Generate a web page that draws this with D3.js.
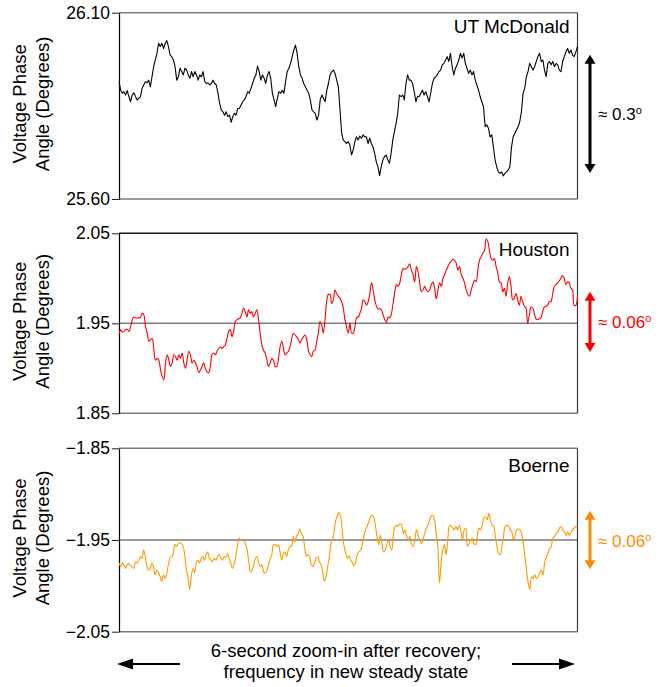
<!DOCTYPE html>
<html>
<head>
<meta charset="utf-8">
<script src="https://cdn.jsdelivr.net/npm/d3@7"></script>
<style>
  body { margin: 0; background: #fff; }
  text { font-family: "Liberation Sans", Arial, sans-serif; }
</style>
</head>
<body>
<svg id="chart" width="659" height="687"></svg>
<script>
// 6 second window, phase angle samples (degrees), evenly spaced in time
const windowSeconds = 6;

const mcdonald = [
  25.915, 25.892, 25.884, 25.888, 25.879, 25.891, 25.875, 25.861, 25.879, 25.885, 25.875, 25.866, 25.870, 25.875, 25.897, 25.906,
  25.915, 25.912, 25.919, 25.901, 25.928, 25.955, 25.973, 25.991, 26.018, 26.009, 26.018, 26.004, 26.018, 26.025, 26.009, 25.986,
  25.982, 25.973, 25.955, 25.919, 25.928, 25.951, 25.942, 25.933, 25.951, 25.946, 25.933, 25.924, 25.942, 25.928, 25.942, 25.933,
  25.919, 25.933, 25.928, 25.942, 25.915, 25.910, 25.912, 25.906, 25.910, 25.919, 25.910, 25.906, 25.884, 25.857, 25.839, 25.834,
  25.825, 25.834, 25.821, 25.825, 25.806, 25.821, 25.830, 25.825, 25.843, 25.843, 25.852, 25.861, 25.866, 25.875, 25.888, 25.884,
  25.897, 25.910, 25.924, 25.933, 25.957, 25.942, 25.919, 25.933, 25.924, 25.910, 25.933, 25.942, 25.924, 25.884, 25.866, 25.848,
  25.870, 25.888, 25.884, 25.892, 25.884, 25.915, 25.942, 25.951, 25.964, 25.982, 26.000, 26.013, 25.991, 25.955, 25.933, 25.924,
  25.910, 25.901, 25.892, 25.884, 25.866, 25.839, 25.834, 25.830, 25.812, 25.825, 25.866, 25.879, 25.870, 25.861,
  25.892, 25.910, 25.933, 25.942, 25.946, 25.937, 25.919, 25.901, 25.839, 25.776, 25.758, 25.754, 25.749, 25.754, 25.745, 25.718,
  25.732, 25.754, 25.767, 25.758, 25.769, 25.763, 25.772, 25.767, 25.767, 25.749, 25.763, 25.749, 25.740, 25.723, 25.700, 25.687,
  25.663, 25.687, 25.705, 25.714, 25.718, 25.705, 25.696, 25.723, 25.758, 25.781, 25.803, 25.830, 25.879, 25.875, 25.879, 25.866,
  25.910, 25.933, 25.919, 25.919, 25.910, 25.888, 25.861, 25.875, 25.875, 25.884, 25.892, 25.879, 25.888, 25.875, 25.861, 25.884,
  25.910, 25.924, 25.928, 25.933, 25.942, 25.946, 25.960, 25.964, 25.973, 25.982, 25.969, 25.991, 25.955, 25.933, 25.951, 25.960,
  25.973, 25.991, 25.978, 25.991, 25.964, 25.951, 25.937, 25.946, 25.933, 25.942, 25.919, 25.906, 25.892, 25.875, 25.861, 25.848,
  25.794, 25.799, 25.790, 25.767, 25.772, 25.740, 25.705, 25.687, 25.673, 25.669, 25.673, 25.662, 25.669, 25.673, 25.678, 25.687,
  25.740, 25.767, 25.776, 25.785, 25.794, 25.808, 25.834, 25.884, 25.897, 25.928, 25.942, 25.964, 25.955, 25.946, 25.955, 25.969,
  25.982, 25.991, 25.969, 25.973, 25.946, 25.928, 25.964, 25.969, 25.960, 25.969, 25.955, 25.964, 25.960, 25.946, 25.942, 25.969,
  25.982, 25.995, 26.004, 25.991, 26.000, 25.986, 25.982, 25.995, 26.009
];

const houston = [
  1.937, 1.943, 1.940, 1.941, 1.943, 1.943, 1.941, 1.946, 1.954, 1.957, 1.956, 1.956, 1.956, 1.957, 1.961, 1.959,
  1.946, 1.939, 1.930, 1.932, 1.933, 1.920, 1.909, 1.911, 1.909, 1.898, 1.891, 1.887, 1.906, 1.915, 1.909, 1.902,
  1.906, 1.915, 1.913, 1.909, 1.915, 1.911, 1.917, 1.906, 1.900, 1.909, 1.919, 1.915, 1.906, 1.909, 1.906, 1.902,
  1.895, 1.898, 1.902, 1.906, 1.900, 1.896, 1.895, 1.902, 1.915, 1.917, 1.915, 1.919, 1.922, 1.924, 1.922, 1.924,
  1.926, 1.933, 1.941, 1.943, 1.935, 1.941, 1.952, 1.954, 1.955, 1.956, 1.961, 1.967, 1.963, 1.957, 1.965, 1.961,
  1.963, 1.957, 1.961, 1.965, 1.954, 1.939, 1.926, 1.920, 1.917, 1.909, 1.902, 1.906, 1.911, 1.909, 1.902, 1.902,
  1.911, 1.924, 1.930, 1.922, 1.915, 1.917, 1.919, 1.924, 1.933, 1.939, 1.937, 1.935, 1.932, 1.928, 1.932, 1.935,
  1.937, 1.932, 1.920, 1.915, 1.913, 1.919, 1.920, 1.930, 1.939, 1.952, 1.948, 1.939, 1.954, 1.974, 1.982, 1.982,
  1.972, 1.976, 1.987, 1.983, 1.980, 1.978, 1.974, 1.967, 1.954, 1.946, 1.939, 1.950, 1.939, 1.939, 1.946, 1.956,
  1.957, 1.961, 1.967, 1.976, 1.974, 1.970, 1.974, 1.983, 1.995, 1.987, 1.976, 1.969, 1.966, 1.966, 1.965, 1.959,
  1.954, 1.951, 1.957, 1.956, 1.961, 1.972, 1.985, 1.993, 1.991, 1.995, 2.004, 2.011, 2.010, 2.011, 2.013, 2.016,
  2.009, 2.004, 1.996, 2.013, 2.007, 1.995, 1.985, 1.987, 1.991, 1.987, 1.985, 1.987, 1.993, 1.996, 1.989, 1.977,
  1.987, 1.995, 1.991, 2.000, 2.004, 2.009, 2.013, 2.017, 2.019, 2.021, 2.020, 2.017, 2.009, 2.013, 2.004, 2.000,
  1.995, 1.987, 1.982, 1.980, 1.987, 1.993, 1.998, 1.996, 2.009, 2.020, 2.024, 2.028, 2.031, 2.044, 2.041, 2.031,
  2.022, 2.020, 2.022, 2.013, 2.006, 1.996, 1.995, 1.985, 1.989, 1.980, 1.995, 2.002, 1.991, 1.976, 1.978, 1.983,
  1.976, 1.970, 1.980, 1.974, 1.969, 1.967, 1.950, 1.959, 1.968, 1.967, 1.961, 1.955, 1.954, 1.955, 1.956, 1.963,
  1.968, 1.969, 1.970, 1.974, 1.974, 1.982, 1.991, 1.993, 1.995, 1.997, 2.000, 2.003, 2.000, 1.993, 1.996, 1.995,
  1.989, 1.987, 1.970, 1.970, 1.980
];

const boerne = [
  -1.975, -1.979, -1.975, -1.977, -1.981, -1.977, -1.976, -1.978, -1.979, -1.981, -1.974, -1.975, -1.973, -1.968, -1.970, -1.961,
  -1.968, -1.979, -1.983, -1.981, -1.975, -1.979, -1.988, -1.983, -1.985, -1.990, -1.995, -1.988, -1.992, -1.987, -1.977, -1.970,
  -1.968, -1.965, -1.955, -1.957, -1.954, -1.953, -1.954, -1.957, -1.966, -1.983, -1.990, -2.004, -1.990, -1.981, -1.986, -1.975,
  -1.972, -1.975, -1.970, -1.968, -1.972, -1.966, -1.963, -1.970, -1.972, -1.974, -1.970, -1.972, -1.968, -1.966, -1.970, -1.972,
  -1.968, -1.969, -1.965, -1.970, -1.975, -1.981, -1.977, -1.968, -1.957, -1.948, -1.950, -1.950, -1.951, -1.954, -1.961, -1.974,
  -1.985, -1.983, -1.977, -1.970, -1.968, -1.975, -1.979, -1.977, -1.985, -1.986, -1.983, -1.977, -1.970, -1.966, -1.955, -1.955,
  -1.957, -1.955, -1.963, -1.972, -1.965, -1.963, -1.968, -1.961, -1.957, -1.957, -1.946, -1.952, -1.946, -1.943, -1.938, -1.943,
  -1.946, -1.959, -1.968, -1.966, -1.968, -1.977, -1.979, -1.975, -1.970, -1.968, -1.974, -1.977, -1.985, -1.995, -1.990, -1.979,
  -1.968, -1.954,
  -1.950, -1.939, -1.928, -1.923, -1.920, -1.926, -1.943, -1.957, -1.965, -1.970, -1.967, -1.972, -1.975, -1.978, -1.974, -1.966,
  -1.963, -1.961, -1.955, -1.946, -1.939, -1.935, -1.930, -1.925, -1.923, -1.925, -1.934, -1.946, -1.955, -1.945, -1.954, -1.963,
  -1.961, -1.954, -1.950, -1.957, -1.961, -1.943, -1.935, -1.934, -1.935, -1.932, -1.934, -1.943, -1.939, -1.946, -1.950, -1.946,
  -1.955, -1.957, -1.950, -1.939, -1.945, -1.950, -1.954, -1.950, -1.943, -1.937, -1.934, -1.928, -1.924, -1.923, -1.928, -1.943,
  -1.957, -1.997, -1.975, -1.961, -1.955, -1.966, -1.952, -1.935, -1.934, -1.937, -1.939, -1.935, -1.939, -1.934, -1.939, -1.950,
  -1.939, -1.937, -1.957, -1.954, -1.950, -1.948, -1.954, -1.955, -1.946, -1.937, -1.939, -1.934, -1.926, -1.925, -1.928, -1.921,
  -1.928, -1.934, -1.935, -1.946, -1.957, -1.965, -1.966, -1.957, -1.946, -1.935, -1.934, -1.935, -1.939, -1.941, -1.950, -1.945,
  -1.939, -1.938, -1.939, -1.943, -1.954, -1.968, -1.983, -1.997, -2.004, -1.990, -1.992, -1.988, -1.992, -1.990, -1.986, -1.983,
  -1.988, -1.975, -1.968, -1.965, -1.959, -1.957, -1.948, -1.946, -1.943, -1.941, -1.937, -1.935, -1.939, -1.941, -1.945, -1.941,
  -1.945, -1.941, -1.939, -1.937, -1.935, -1.934
];

const stations = ["UT McDonald", "Houston", "Boerne"];
const yDomains = [[25.60, 26.10], [1.85, 2.05], [-2.05, -1.85]];
const yTicks = [[25.60, 26.10], [1.85, 1.95, 2.05], [-2.05, -1.95, -1.85]];
const spreadText = ["0.3", "0.06", "0.06"];
const spreadRanges = [[25.670, 25.987], [1.918, 1.985], [-1.982, -1.918]];
const lineColors = ["#000000", "#ff0000", "#ff9900"];
const arrowColors = ["#000000", "#ff0000", "#ff8a00"];
const footerLines = ["6-second zoom-in after recovery;", "frequency in new steady state"];

const series = [mcdonald, houston, boerne];

// layout
const left = 119, right = 577.5;
const tops = [12.7, 233.3, 448.3];
const bottoms = [199, 413.3, 631.7];

const svg = d3.select("#chart");

const x = d3.scaleLinear().domain([0, windowSeconds]).range([left, right]);

series.forEach((values, p) => {
    let y = d3.scaleLinear().domain(yDomains[p]).range([bottoms[p], tops[p]]);
    let g = svg.append("g");

    // horizontal reference lines at each tick
    g.selectAll(".grid")
        .data(yTicks[p])
        .join("line")
        .attr("x1", left).attr("x2", right)
        .attr("y1", d => y(d)).attr("y2", d => y(d))
        .attr("stroke", (d, i) => (p === 1 && i === 2) ? "#1a1a1a" : "#7a7a7a")
        .attr("stroke-width", 1.6);

    // right border
    g.append("line")
        .attr("x1", right).attr("x2", right)
        .attr("y1", tops[p]).attr("y2", bottoms[p])
        .attr("stroke", "#3a3a3a").attr("stroke-width", 1.2);

    let axis = g.append("g")
        .attr("transform", "translate(" + left + ",0)")
        .call(d3.axisLeft(y).tickValues(yTicks[p]).tickFormat(d3.format(".2f"))
            .tickSize(7).tickSizeOuter(0).tickPadding(2));
    axis.selectAll("text")
        .attr("font-family", "Liberation Sans, Arial, sans-serif")
        .attr("font-size", "17.5px")
        .attr("fill", "#000");
    axis.selectAll("line").attr("stroke", "#222");
    axis.select(".domain").attr("stroke", "#000").attr("stroke-width", 1.2);

    // y title
    let cy = (tops[p] + bottoms[p]) / 2 - 2;
    let title = g.append("text")
        .attr("transform", "translate(25.5," + cy + ") rotate(-90)")
        .attr("text-anchor", "middle")
        .attr("font-size", "18.5px")
        .attr("fill", "#000");
    title.append("tspan").attr("x", 0).attr("y", 0).text("Voltage Phase");
    title.append("tspan").attr("x", 0).attr("y", 23).text("Angle (Degrees)");

    // data trace
    let line = d3.line()
        .x((d, i) => x(i / (values.length - 1) * windowSeconds))
        .y(d => y(d))
        .curve(p === 0 ? d3.curveLinear : d3.curveCatmullRom.alpha(0.5));

    g.append("path")
        .datum(values)
        .attr("d", line)
        .attr("fill", "none")
        .attr("stroke", lineColors[p])
        .attr("stroke-width", 1.1)
        .attr("stroke-linejoin", "round");

    // station name
    g.append("text")
        .attr("x", right - 8)
        .attr("y", tops[p] + [20.5, 22.5, 23.5][p])
        .attr("text-anchor", "end")
        .attr("font-size", "19px")
        .attr("fill", "#000")
        .text(stations[p]);

    // spread arrow
    let ax = 590;
    let yTop = y(spreadRanges[p][1]), yBot = y(spreadRanges[p][0]);
    let head = 9, hw = 5.5;
    g.append("line")
        .attr("x1", ax).attr("x2", ax)
        .attr("y1", yTop + head - 1).attr("y2", yBot - head + 1)
        .attr("stroke", arrowColors[p]).attr("stroke-width", 3);
    g.append("path")
        .attr("d", "M" + ax + "," + yTop + "L" + (ax - hw) + "," + (yTop + head) + "L" + (ax + hw) + "," + (yTop + head) + "Z" +
                   "M" + ax + "," + yBot + "L" + (ax - hw) + "," + (yBot - head) + "L" + (ax + hw) + "," + (yBot - head) + "Z")
        .attr("fill", arrowColors[p]);

    let label = g.append("text")
        .attr("x", 598)
        .attr("y", (yTop + yBot) / 2 + 6.5)
        .attr("font-size", "17px")
        .attr("fill", arrowColors[p]);
    label.append("tspan").text("\u2248 " + spreadText[p]);
    label.append("tspan").attr("font-size", "11px").attr("dy", -6).text("o");
});

// footer
let footer = svg.append("text")
    .attr("text-anchor", "middle")
    .attr("font-size", "18.5px")
    .attr("fill", "#000");
footerLines.forEach((t, i) => {
    footer.append("tspan").attr("x", 346).attr("y", 656.5 + i * 21.5).text(t);
});

function hArrow(x0, x1, yy) {
    let dir = Math.sign(x1 - x0), head = 16, hw = 5.5;
    svg.append("line")
        .attr("x1", x0).attr("x2", x1 - dir * (head - 2))
        .attr("y1", yy).attr("y2", yy)
        .attr("stroke", "#000").attr("stroke-width", 2);
    svg.append("path")
        .attr("d", "M" + x1 + "," + yy + "L" + (x1 - dir * head) + "," + (yy - hw) + "L" + (x1 - dir * head) + "," + (yy + hw) + "Z")
        .attr("fill", "#000");
}
hArrow(180, 117, 664);
hArrow(512, 575, 664);
</script>
</body>
</html>
